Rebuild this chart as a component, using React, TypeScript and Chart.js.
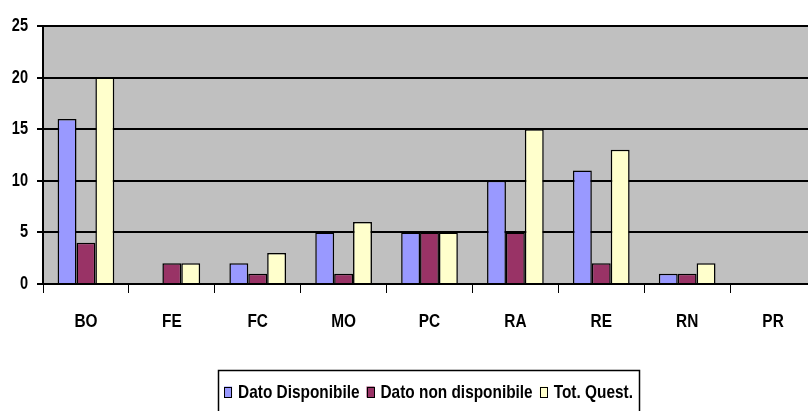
import React, { useEffect, useRef } from "react";
import { Chart, registerables } from "chart.js";

Chart.register(...registerables);

const categories = ["BO", "FE", "FC", "MO", "PC", "RA", "RE", "RN", "PR"];
const datoDisponibile = [16, 0, 2, 5, 5, 10, 11, 1, 0];
const datoNonDisponibile = [4, 2, 1, 1, 5, 5, 2, 1, 0];
const totQuest = [20, 2, 3, 6, 5, 15, 13, 2, 0];
const seriesLabels = ["Dato Disponibile", "Dato non disponibile", "Tot. Quest."];
const seriesColors = ["#9999FF", "#993366", "#FFFFCC"];
const yTicks = [0, 5, 10, 15, 20, 25];

const FONT = "'Liberation Sans', Arial, sans-serif";
const NARROW = 0.81; // Arial Narrow-like horizontal condensing

function drawNarrow(ctx: CanvasRenderingContext2D, text: string, x: number, y: number, align: CanvasTextAlign, size: number) {
  ctx.save();
  ctx.font = `bold ${size}px ${FONT}`;
  ctx.fillStyle = "#000";
  ctx.textBaseline = "middle";
  ctx.textAlign = align;
  ctx.translate(x, y);
  ctx.scale(NARROW, 1);
  ctx.fillText(text, 0, 0);
  ctx.restore();
}

const plotBg = {
  id: "plotBg",
  beforeDraw(chart: any) {
    const { ctx, chartArea } = chart;
    ctx.save();
    ctx.fillStyle = "#C0C0C0";
    ctx.fillRect(chartArea.left, chartArea.top, chartArea.right - chartArea.left, chartArea.bottom - chartArea.top);
    ctx.restore();
  },
};

const narrowLabels = {
  id: "narrowLabels",
  afterDraw(chart: any) {
    const { ctx, chartArea } = chart;
    const xs = chart.scales.x;
    const ys = chart.scales.y;
    xs.ticks.forEach((_t: any, i: number) => {
      const px = xs.getPixelForTick(i);
      drawNarrow(ctx, String(xs.getLabelForValue(i)), px, chartArea.bottom + 38, "center", 19);
    });
    ys.ticks.forEach((t: any) => {
      const py = ys.getPixelForValue(t.value);
      drawNarrow(ctx, String(t.value), chartArea.left - 15, py, "right", 18);
    });
  },
};

const boxedLegend = {
  id: "boxedLegend",
  afterDraw(chart: any) {
    const { ctx, chartArea } = chart;
    ctx.save();
    const size = 19;
    ctx.font = `bold ${size}px ${FONT}`;
    const items = chart.data.datasets.map((ds: any) => ({
      label: ds.label,
      color: ds.backgroundColor,
      w: ctx.measureText(ds.label).width * NARROW,
    }));
    const boxW = 8, boxH = 11, gapBT = 6, gapItems = 7, pad = 6;
    let total = 0;
    items.forEach((it: any, i: number) => {
      total += boxW + gapBT + it.w + (i > 0 ? gapItems : 0);
    });
    const cx = (chartArea.left + chartArea.right) / 2 - 1;
    const cy = chartArea.bottom + 108;
    let x = cx - total / 2;
    ctx.strokeStyle = "#000";
    ctx.lineWidth = 1.5;
    ctx.strokeRect(Math.round(x - pad) + 0.5, chartArea.bottom + 86.5, Math.round(total + 2 * pad), 80);
    items.forEach((it: any) => {
      ctx.fillStyle = it.color;
      ctx.fillRect(x, cy - boxH / 2, boxW, boxH);
      ctx.lineWidth = 1;
      ctx.strokeStyle = "#000";
      ctx.strokeRect(Math.round(x) + 0.5, Math.round(cy - boxH / 2) + 0.5, boxW - 1, boxH - 1);
      drawNarrow(ctx, it.label, x + boxW + gapBT, cy + 1, "left", size);
      x += boxW + gapBT + it.w + gapItems;
    });
    ctx.restore();
  },
};

export default function App() {
  const ref = useRef<HTMLCanvasElement>(null);
  useEffect(() => {
    if (!ref.current) return;
    Chart.defaults.font.family = FONT;
    const seriesData = [datoDisponibile, datoNonDisponibile, totQuest];
    const chart = new Chart(ref.current, {
      type: "bar",
      data: {
        labels: categories,
        datasets: seriesLabels.map((label, i) => ({
          label,
          data: seriesData[i],
          backgroundColor: seriesColors[i],
          borderColor: "#000",
          borderWidth: 1.5,
          barPercentage: 1,
          categoryPercentage: 0.66,
        })),
      },
      options: {
        responsive: false,
        animation: false,
        devicePixelRatio: 1,
        layout: { padding: { top: 26, left: 0, right: 0, bottom: 96 } },
        plugins: {
          legend: { display: false },
          tooltip: { enabled: false },
        },
        scales: {
          x: {
            afterFit: (s: any) => {
              s.height = 50;
            },
            grid: {
              display: true,
              drawOnChartArea: false,
              drawTicks: true,
              tickLength: 9,
              color: "#000",
              lineWidth: 1,
              offset: true,
            },
            border: { display: true, color: "#000", width: 2 },
            ticks: { display: false },
          },
          y: {
            min: 0,
            max: 25,
            afterFit: (s: any) => {
              s.width = 43;
            },
            afterBuildTicks: (s: any) => {
              s.ticks = yTicks.map((v) => ({ value: v }));
            },
            grid: {
              color: "#000",
              lineWidth: 2,
              drawTicks: true,
              tickLength: 6,
            },
            border: { display: true, color: "#000", width: 2 },
            ticks: { display: false },
          },
        },
      },
      plugins: [plotBg, narrowLabels, boxedLegend],
    } as any);
    return () => chart.destroy();
  }, []);
  return (
    <div
      style={{
        position: "fixed",
        left: 0,
        top: 0,
        width: 808,
        height: 411,
        overflow: "hidden",
        background: "#fff",
      }}
    >
      <canvas ref={ref} width={816} height={430} style={{ display: "block" }} />
    </div>
  );
}
